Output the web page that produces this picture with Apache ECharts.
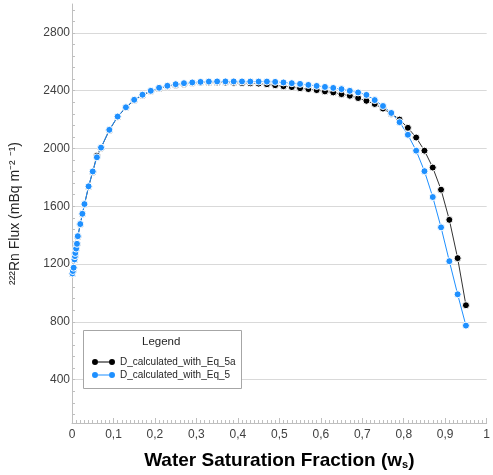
<!DOCTYPE html>
<html>
<head>
<meta charset="utf-8">
<script src="https://cdn.jsdelivr.net/npm/echarts@6/dist/echarts.min.js"></script>
<style>
  html, body { margin: 0; padding: 0; background: #fff; }
  #main { width: 493px; height: 475px; }
</style>
</head>
<body>
<div id="main"></div>
<script>
// water saturation fraction (shared by both curves)
var waterSat = [0.001, 0.002, 0.004, 0.006, 0.007, 0.008, 0.010, 0.012, 0.014, 0.020,
  0.025, 0.030, 0.040, 0.050, 0.060, 0.070, 0.09,
  0.11, 0.13, 0.15, 0.17, 0.19, 0.21, 0.23, 0.25, 0.27, 0.29,
  0.31, 0.33, 0.35, 0.37, 0.39, 0.41, 0.43, 0.45, 0.47, 0.49,
  0.51, 0.53, 0.55, 0.57, 0.59, 0.61, 0.63, 0.65, 0.67, 0.69,
  0.71, 0.73, 0.75, 0.77, 0.79, 0.81, 0.83, 0.85, 0.87, 0.89,
  0.91, 0.93, 0.95];

// D_calculated_with_Eq_5a (black)
var fluxEq5a = [1133, 1150, 1173, 1230, 1253, 1275, 1305, 1338, 1391, 1475,
  1546, 1612, 1735, 1838, 1950, 2004, 2127,
  2219, 2283, 2334, 2369, 2396, 2416, 2430, 2440, 2447, 2453,
  2456, 2457, 2457, 2456, 2455, 2453, 2451, 2449, 2445, 2438,
  2431, 2425, 2417, 2411, 2404, 2395, 2388, 2376, 2365, 2349,
  2330, 2308, 2276, 2241, 2200, 2143, 2076, 1985, 1868, 1715,
  1506, 1241, 915];

// D_calculated_with_Eq_5 (blue)
var fluxEq5 = [1135, 1152, 1175, 1232, 1255, 1277, 1307, 1340, 1393, 1477,
  1548, 1615, 1738, 1841, 1939, 2006, 2129,
  2221, 2285, 2337, 2372, 2399, 2420, 2434, 2445, 2452, 2457,
  2461, 2463, 2464, 2464, 2464, 2464, 2463, 2463, 2463, 2461,
  2457, 2452, 2447, 2440, 2433, 2426, 2419, 2411, 2399, 2388,
  2371, 2335, 2294, 2246, 2182, 2095, 1985, 1843, 1664, 1454,
  1220, 991, 774];

var yLabelValues = [400, 800, 1200, 1600, 2000, 2400, 2800];
var yMinorValues = [160, 240, 320, 400, 480, 560, 640, 720, 800, 880, 960, 1040, 1120, 1200,
  1280, 1360, 1440, 1520, 1600, 1680, 1760, 1840, 1920, 2000, 2080, 2160, 2240, 2320, 2400,
  2480, 2560, 2640, 2720, 2800, 2880, 2960];

var seriesNames = ['D_calculated_with_Eq_5a', 'D_calculated_with_Eq_5'];

function pairs(xs, ys) {
  return xs.map(function (x, i) { return [x, ys[i]]; });
}

var chart = echarts.init(document.getElementById('main'));
var font = 'Liberation Sans';
var legendIcon = 'path://M0,4a3,3 0 1,0 6,0a3,3 0 1,0 -6,0M17,4a3,3 0 1,0 6,0a3,3 0 1,0 -6,0M6,3.5L17,3.5L17,4.5L6,4.5Z';

var option = {
  backgroundColor: '#fff',
  animation: false,
  grid: { left: 69, right: 3, top: 4, bottom: 49 },
  xAxis: {
    type: 'value',
    min: 0,
    max: 1,
    interval: 0.1,
    name: 'Water Saturation Fraction (w{s|s})',
    nameLocation: 'middle',
    nameGap: 28,
    nameTextStyle: {
      fontFamily: font, fontSize: 19, fontWeight: 'bold', color: '#000',
      rich: { s: { fontFamily: font, fontSize: 11, fontWeight: 'bold', color: '#000', padding: [8, 0, 0, 0] } }
    },
    axisLine: { lineStyle: { color: '#bfbfbf' } },
    axisTick: { inside: true, length: 5, lineStyle: { color: '#bfbfbf' } },
    minorTick: { show: true, splitNumber: 10, length: 3, lineStyle: { color: '#bfbfbf' } },
    splitLine: { show: false },
    axisLabel: {
      fontFamily: font, fontSize: 12, color: '#404040', margin: 6,
      formatter: function (v) { return v === 0 ? '0' : (v === 1 ? '1' : v.toFixed(1).replace('.', ',')); }
    }
  },
  yAxis: [{
    type: 'value',
    min: 100,
    max: 3000,
    name: '\u00B2\u00B2\u00B2Rn Flux (mBq m\u207B\u00B2 \u207B\u00B9)',
    nameLocation: 'middle',
    nameGap: 50,
    nameTextStyle: { fontFamily: font, fontSize: 14, color: '#262626' },
    axisLine: { show: true, lineStyle: { color: '#bfbfbf' } },
    axisTick: { show: true, inside: true, length: 3, customValues: yLabelValues, lineStyle: { color: '#bfbfbf' } },
    axisLabel: {
      fontFamily: font, fontSize: 12, color: '#404040', margin: 2, customValues: yLabelValues,
      formatter: function (v) { return String(v); }
    },
    splitLine: { show: true, lineStyle: { color: '#d9d9d9' } }
  }, {
    // minor ticks only
    type: 'value',
    min: 100,
    max: 3000,
    position: 'left',
    axisLine: { show: false },
    axisTick: { show: true, inside: true, length: 3, customValues: yMinorValues, lineStyle: { color: '#bfbfbf' } },
    axisLabel: { show: false },
    splitLine: { show: false }
  }],
  legend: {
    left: 87,
    top: 352,
    orient: 'vertical',
    itemGap: 3,
    itemWidth: 23,
    itemHeight: 6,
    z: 10,
    textStyle: { fontFamily: font, fontSize: 10, color: '#262626' },
    data: [
      { name: seriesNames[0], icon: legendIcon, itemStyle: { color: '#000', borderWidth: 0 } },
      { name: seriesNames[1], icon: legendIcon, itemStyle: { color: '#1e90ff', borderWidth: 0 } }
    ]
  },
  graphic: [{
    type: 'rect',
    left: 83,
    top: 330,
    z: 5,
    shape: { width: 158, height: 58 },
    style: { fill: '#fff', stroke: '#a6a6a6', lineWidth: 1 }
  }, {
    type: 'text',
    left: 142,
    top: 336,
    z: 6,
    style: { text: 'Legend', fontFamily: font, fontSize: 11.5, fill: '#262626' }
  }],
  series: [{
    name: seriesNames[0],
    type: 'line',
    data: pairs(waterSat, fluxEq5a),
    symbol: 'circle',
    symbolSize: 7,
    itemStyle: { color: '#000', borderColor: '#fff', borderWidth: 1 },
    lineStyle: { color: '#333', width: 1 }
  }, {
    name: seriesNames[1],
    type: 'line',
    data: pairs(waterSat, fluxEq5),
    symbol: 'circle',
    symbolSize: 7,
    itemStyle: { color: '#1e90ff', borderColor: '#fff', borderWidth: 1 },
    lineStyle: { color: '#1e90ff', width: 1 }
  }]
};

chart.setOption(option);
</script>
</body>
</html>
